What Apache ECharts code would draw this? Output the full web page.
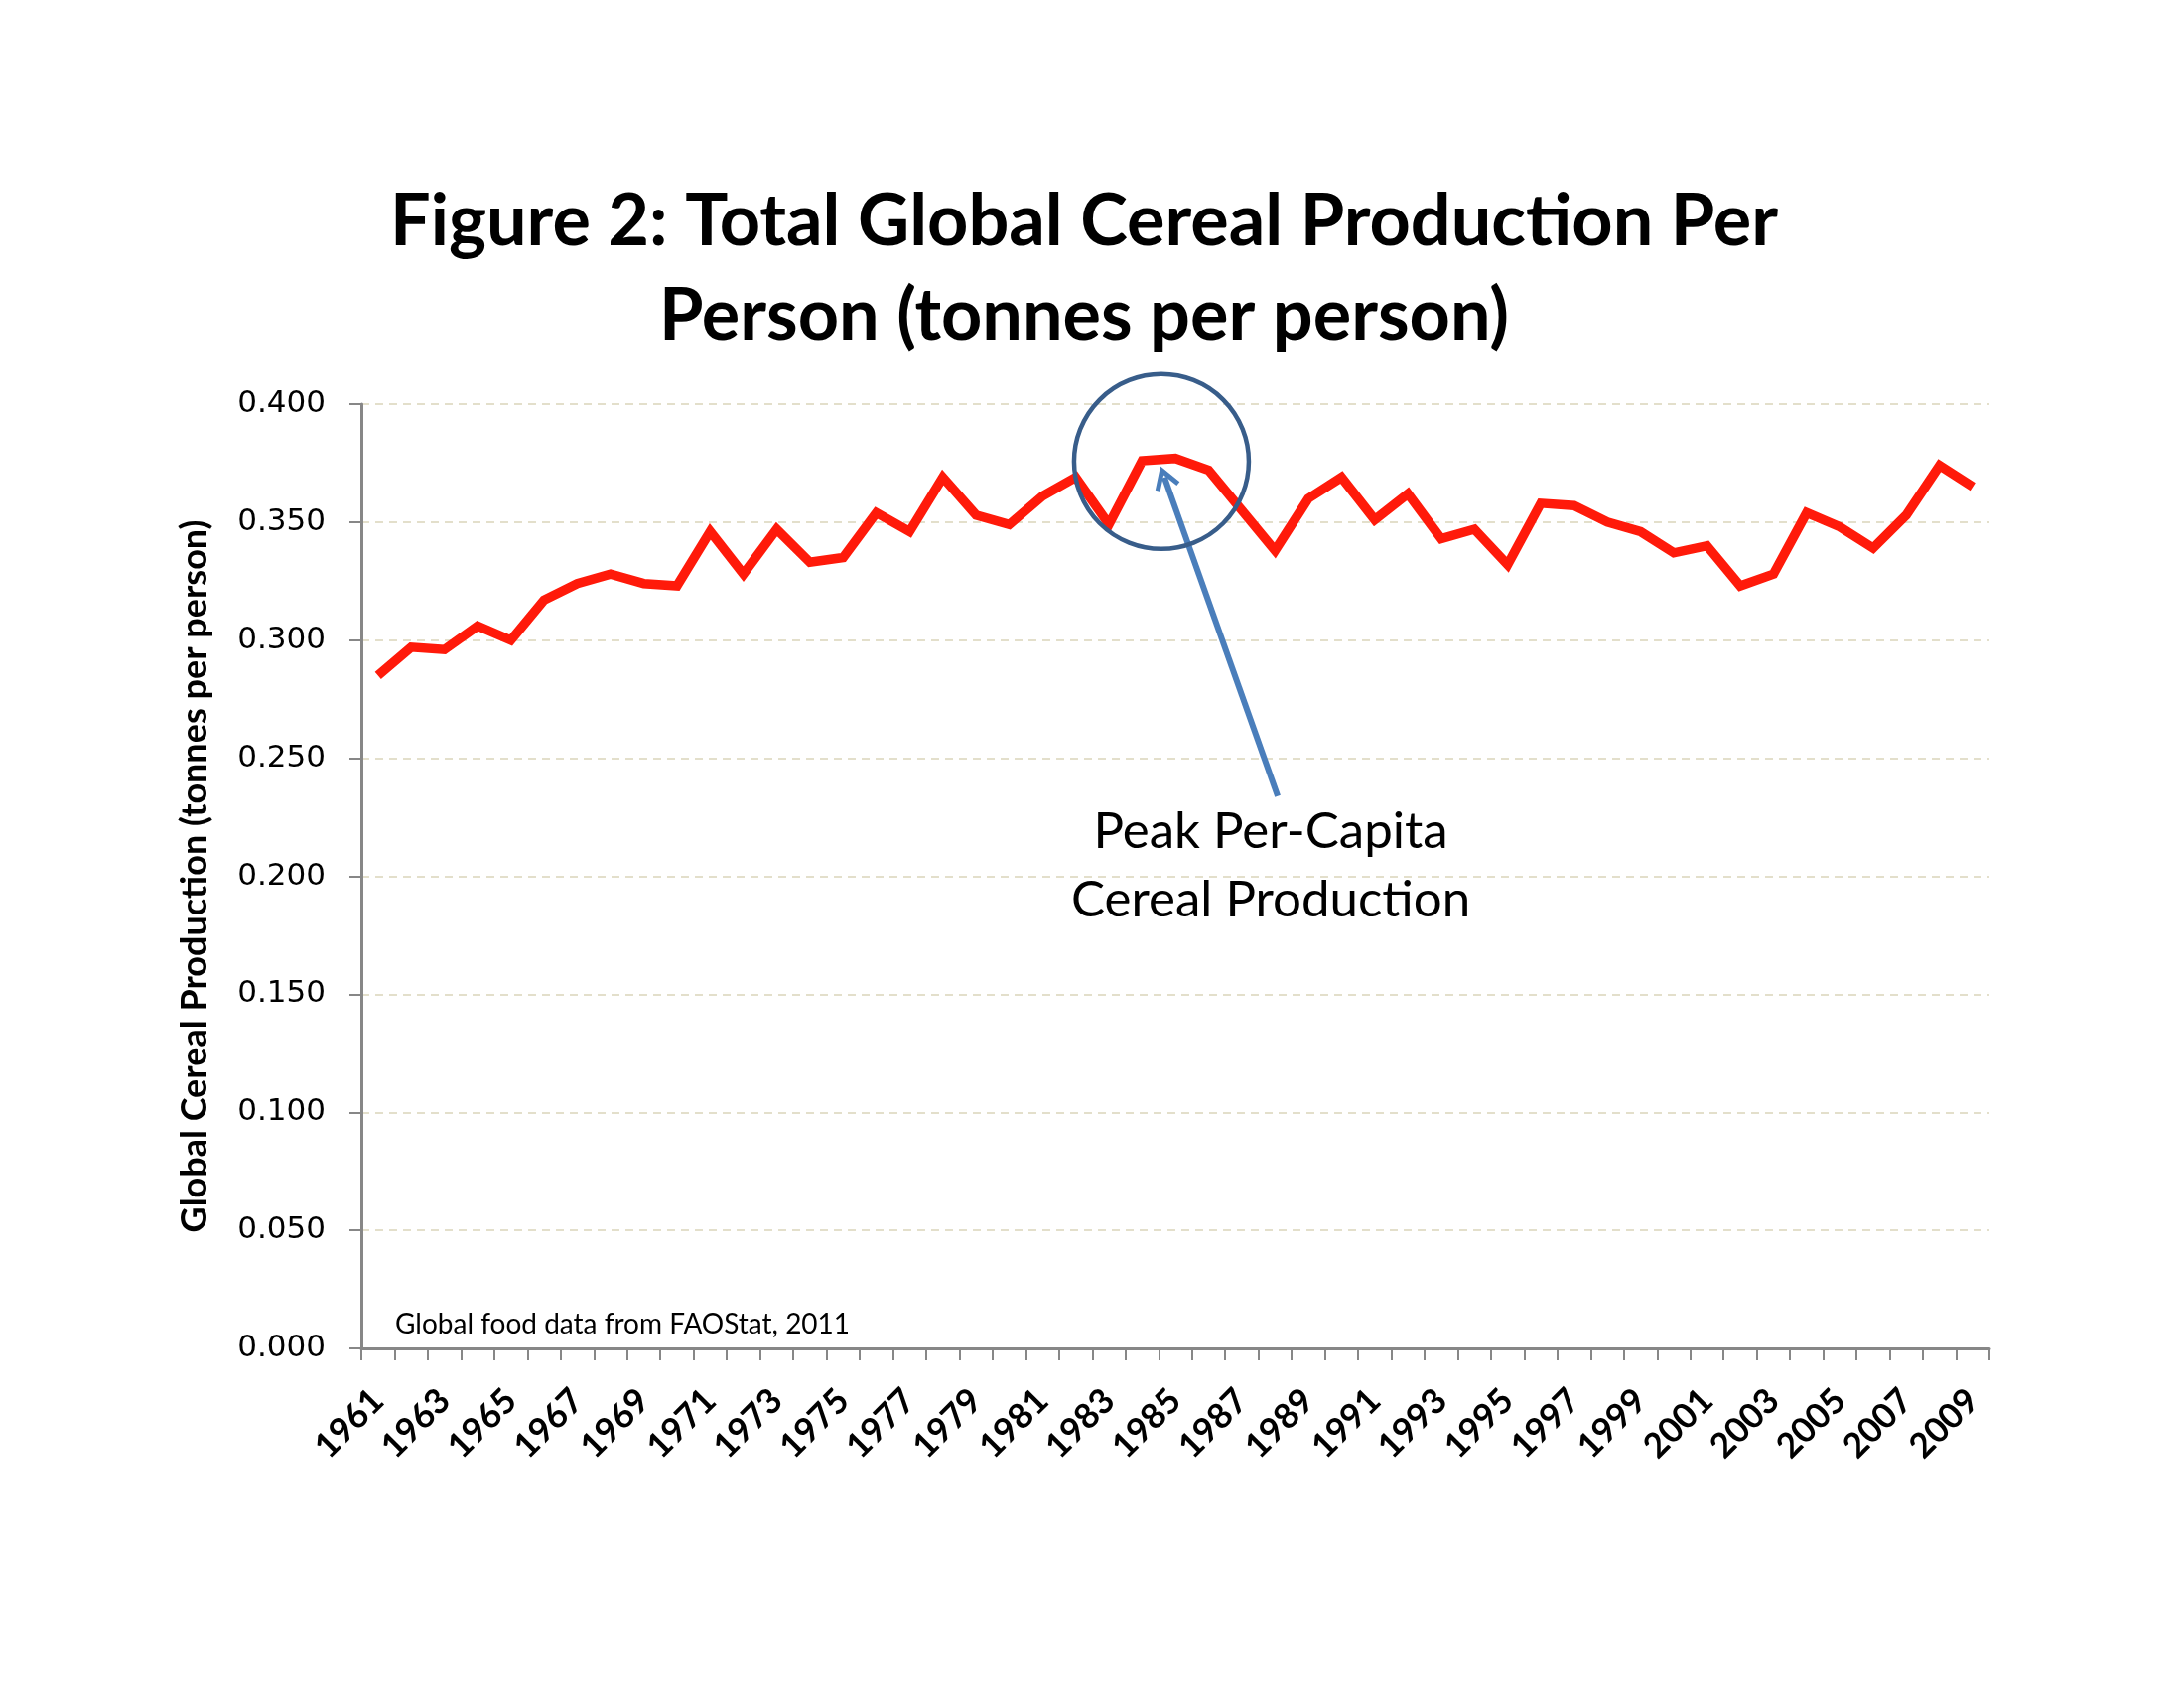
<!DOCTYPE html>
<html>
<head>
<meta charset="utf-8">
<script src="https://cdn.jsdelivr.net/npm/echarts@6/dist/echarts.min.js"></script>
<style>
  html, body { margin: 0; padding: 0; background: #ffffff; }
  #chart { width: 2200px; height: 1700px; }
</style>
</head>
<body>
<div id="chart"></div>
<script>
// ---- Data ----
const years = [
  '1961','1962','1963','1964','1965','1966','1967','1968','1969','1970',
  '1971','1972','1973','1974','1975','1976','1977','1978','1979','1980',
  '1981','1982','1983','1984','1985','1986','1987','1988','1989','1990',
  '1991','1992','1993','1994','1995','1996','1997','1998','1999','2000',
  '2001','2002','2003','2004','2005','2006','2007','2008','2009'
];
const cerealPerPerson = [
  0.285, 0.297, 0.296, 0.306, 0.300, 0.317, 0.324, 0.328, 0.324, 0.323,
  0.346, 0.328, 0.347, 0.333, 0.335, 0.354, 0.346, 0.369, 0.353, 0.349,
  0.361, 0.369, 0.349, 0.376, 0.377, 0.372, 0.355, 0.338, 0.360, 0.369,
  0.351, 0.362, 0.343, 0.347, 0.332, 0.358, 0.357, 0.350, 0.346, 0.337,
  0.340, 0.323, 0.328, 0.354, 0.348, 0.339, 0.353, 0.374, 0.365
];
const yTicks = { min: 0, max: 0.4, interval: 0.05 };

// Annotation (in data units: fractional year, value)
const peakCircle = [1984.58, 0.3757];
const arrowFrom = [1988.08, 0.234];
const arrowTo = [1984.67, 0.369];
const calloutPos = [1987.87, 0.2045];
const calloutText = 'Peak Per-Capita\nCereal Production';
const titleText = 'Figure 2: Total Global Cereal Production Per\nPerson (tonnes per person)';
const yAxisTitle = 'Global Cereal Production (tonnes per person)';
const sourceNote = 'Global food data from FAOStat, 2011';

const chart = echarts.init(document.getElementById('chart'), null, { renderer: 'canvas' });

const option = {
  backgroundColor: '#ffffff',
  animation: false,
  title: {
    text: titleText,
    left: 1087,
    top: 171,
    textAlign: 'center',
    textStyle: {
      fontFamily: 'Lato',
      fontWeight: 'bold',
      fontSize: 72,
      lineHeight: 95,
      color: '#000000'
    }
  },
  grid: { left: 364, right: 196, top: 407, bottom: 342, containLabel: false },
  xAxis: [
    {
      type: 'category',
      data: years,
      boundaryGap: true,
      axisLine: { show: true, lineStyle: { color: '#878787', width: 3 } },
      axisTick: { show: true, interval: 0, length: 12, lineStyle: { color: '#878787', width: 2 } },
      axisLabel: {
        interval: 1,
        rotate: 45,
        margin: 47,
        fontFamily: 'Lato',
        fontWeight: 'bold',
        fontSize: 35,
        color: '#000000'
      },
      splitLine: { show: false }
    },
    {
      type: 'value',
      min: 1960.5,
      max: 2009.5,
      show: false,
      position: 'bottom'
    }
  ],
  yAxis: {
    type: 'value',
    min: yTicks.min,
    max: yTicks.max,
    interval: yTicks.interval,
    name: yAxisTitle,
    nameLocation: 'middle',
    nameGap: 150,
    nameRotate: 90,
    nameTextStyle: {
      fontFamily: 'Lato',
      fontWeight: 'bold',
      fontSize: 36,
      color: '#000000'
    },
    axisLine: { show: true, lineStyle: { color: '#878787', width: 3 } },
    axisTick: { show: true, length: 12, lineStyle: { color: '#878787', width: 2 } },
    axisLabel: {
      margin: 36,
      formatter: v => v.toFixed(3),
      fontFamily: 'DejaVu Sans',
      fontSize: 31,
      color: '#000000'
    },
    splitLine: { show: true, lineStyle: { color: '#E3DFCB', width: 2, type: [8, 6] } }
  },
  graphic: [
    {
      type: 'text',
      left: 398,
      top: 1320,
      style: {
        text: sourceNote,
        fontFamily: 'Lato',
        fontSize: 28,
        fill: '#000000'
      }
    }
  ],
  series: [
    {
      name: 'Cereal per person',
      type: 'line',
      data: cerealPerPerson,
      symbol: 'none',
      lineStyle: { color: '#FF1A0A', width: 9.5, join: 'miter' },
      z: 3
    },
    {
      name: 'annotation',
      type: 'scatter',
      xAxisIndex: 1,
      data: [],
      silent: true,
      markPoint: {
        silent: true,
        data: [
          {
            coord: peakCircle,
            symbol: 'circle',
            symbolSize: 176,
            itemStyle: { color: 'rgba(0,0,0,0)', borderColor: '#385D8A', borderWidth: 4.5 },
            label: { show: false }
          },
          {
            coord: calloutPos,
            symbol: 'rect',
            symbolSize: 1,
            itemStyle: { color: 'rgba(0,0,0,0)' },
            label: {
              show: true,
              position: 'inside',
              formatter: calloutText,
              fontFamily: 'Lato',
              fontSize: 51,
              lineHeight: 69,
              color: '#000000',
              align: 'center',
              verticalAlign: 'middle'
            }
          }
        ]
      },
      markLine: {
        silent: true,
        symbol: ['none', 'path://M50,0 L100,80 L84,90 L50,36 L16,90 L0,80 Z'],
        symbolSize: [26, 24],
        label: { show: false },
        lineStyle: { color: '#4A7EBB', width: 6, type: 'solid' },
        data: [
          [ { coord: arrowFrom }, { coord: arrowTo } ]
        ]
      },
      z: 5
    }
  ]
};

chart.setOption(option);
</script>
</body>
</html>
